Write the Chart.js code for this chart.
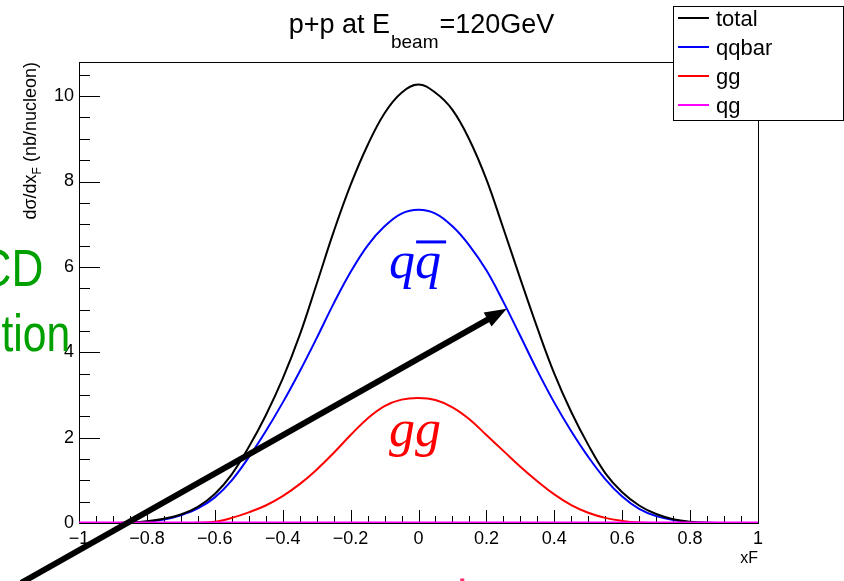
<!DOCTYPE html>
<html>
<head>
<meta charset="utf-8">
<script src="https://cdn.jsdelivr.net/npm/chart.js@4.4.1/dist/chart.umd.min.js"></script>
<style>
  body { margin: 0; background: #fff; }
  canvas { display: block; }
</style>
</head>
<body>
<canvas id="xsec" width="844" height="581"></canvas>
<script>
// xF grid (step 0.05)
var xF = [-1, -0.95, -0.9, -0.85, -0.8, -0.75, -0.7, -0.65, -0.6, -0.55, -0.5,
          -0.45, -0.4, -0.35, -0.3, -0.25, -0.2, -0.15, -0.1, -0.05, 0,
          0.05, 0.1, 0.15, 0.2, 0.25, 0.3, 0.35, 0.4, 0.45, 0.5,
          0.55, 0.6, 0.65, 0.7, 0.75, 0.8, 0.85, 0.9, 0.95, 1];

var total = [0, 0, 0, 0.01, 0.04, 0.1, 0.2, 0.38, 0.68, 1.14, 1.78,
             2.52, 3.38, 4.4, 5.6, 6.82, 7.92, 8.85, 9.6, 10.08, 10.27,
             10.08, 9.68, 8.98, 8.05, 6.9, 5.72, 4.57, 3.5, 2.6, 1.83,
             1.17, 0.72, 0.41, 0.21, 0.09, 0.03, 0.008, 0, 0, 0];

var qqbar = [0, 0, 0, 0.005, 0.03, 0.08, 0.18, 0.34, 0.6, 1.0, 1.54,
             2.15, 2.82, 3.55, 4.33, 5.14, 5.88, 6.5, 6.95, 7.25, 7.34,
             7.25, 6.95, 6.5, 5.92, 5.18, 4.38, 3.57, 2.82, 2.15, 1.55,
             1.03, 0.62, 0.33, 0.16, 0.07, 0.02, 0.003, 0, 0, 0];

var gg = [0, 0, 0, 0, 0, 0, 0, 0.005, 0.03, 0.12, 0.25,
          0.41, 0.63, 0.91, 1.25, 1.64, 2.06, 2.45, 2.74, 2.89, 2.93,
          2.88, 2.71, 2.43, 2.06, 1.69, 1.32, 0.98, 0.67, 0.42, 0.24,
          0.12, 0.05, 0.01, 0, 0, 0, 0, 0, 0, 0];

var qg = [0, 0, 0, 0, 0, 0, 0, 0, 0, 0, 0,
          0, 0, 0, 0, 0, 0, 0, 0, 0, 0,
          0, 0, 0, 0, 0, 0, 0, 0, 0, 0,
          0, 0, 0, 0, 0, 0, 0, 0, 0, 0];

var seriesNames = ["total", "qqbar", "gg", "qg"];
var seriesColors = ["#000000", "#0000ff", "#ff0000", "#ff00ff"];

var xTicks = [-1, -0.8, -0.6, -0.4, -0.2, 0, 0.2, 0.4, 0.6, 0.8, 1];
var yTicks = [0, 2, 4, 6, 8, 10];

var FONT = "'Liberation Sans', Arial, Helvetica, sans-serif";
var SERIF = "'Liberation Serif', 'Times New Roman', serif";

function pts(arr) {
    return arr.map(function (v, i) { return { x: xF[i], y: v }; });
}

function minus(v) {
    var s = String(Math.round(v * 10) / 10);
    return s.replace('-', '\u2212');
}

// frame + ROOT style inside ticks
var framePlugin = {
    id: 'frame',
    beforeDatasetsDraw: function (chart) {
        var c = chart.ctx, a = chart.chartArea;
        var xs = chart.scales.x, ys = chart.scales.y;
        c.save();
        c.strokeStyle = '#000';
        c.lineWidth = 1;
        c.strokeRect(a.left + 0.5, a.top + 0.5, a.right - a.left, a.bottom - a.top);
        c.beginPath();
        for (var v = 0; v <= 10.8; v += 0.5) {
            var py = Math.round(ys.getPixelForValue(v)) + 0.5;
            var len = (Math.abs(v % 2) < 1e-6) ? 21 : 11;
            c.moveTo(a.left, py);
            c.lineTo(a.left + len, py);
        }
        for (var i = 0; i <= 40; i++) {
            var xv = -1 + i * 0.05;
            var px = Math.round(xs.getPixelForValue(xv)) + 0.5;
            var l2 = (i % 4 === 0) ? 13 : 7;
            c.moveTo(px, a.bottom);
            c.lineTo(px, a.bottom - l2);
        }
        c.stroke();
        c.restore();
    },
    afterDatasetsDraw: function (chart) {
        var c = chart.ctx;
        var xs = chart.scales.x, ys = chart.scales.y;
        c.save();

        // slide text cut off at the left
        c.fillStyle = '#00a000';
        c.font = '52px ' + FONT;
        c.textAlign = 'right';
        c.textBaseline = 'alphabetic';
        c.save();
        c.translate(xs.getPixelForValue(-1.105), ys.getPixelForValue(5.56));
        c.scale(0.85, 1);
        c.fillText('CD', 0, 0);
        c.restore();
        c.save();
        c.translate(xs.getPixelForValue(-1.026), ys.getPixelForValue(4.04));
        c.scale(0.82, 1);
        c.fillText('tion', 0, 0);
        c.restore();

        // labels on the curves
        c.textAlign = 'center';
        c.font = 'italic 52px ' + SERIF;
        c.fillStyle = '#0000ff';
        var qx = xs.getPixelForValue(-0.01), qy = ys.getPixelForValue(5.75);
        c.fillText('qq', qx, qy);
        var w = c.measureText('qq').width;
        c.fillRect(qx + 1, ys.getPixelForValue(6.62), w / 2 + 4, 3);

        c.fillStyle = '#ff0000';
        c.fillText('gg', xs.getPixelForValue(-0.01), ys.getPixelForValue(1.8));

        // arrow
        var x0 = xs.getPixelForValue(-1.17), y0 = ys.getPixelForValue(-1.4);
        var x1 = xs.getPixelForValue(0.26), y1 = ys.getPixelForValue(5.02);
        var ang = Math.atan2(y1 - y0, x1 - x0);
        var hl = 22, hw = 8;
        var bx = x1 - hl * Math.cos(ang), by = y1 - hl * Math.sin(ang);
        c.strokeStyle = '#000';
        c.lineWidth = 6;
        c.beginPath();
        c.moveTo(x0, y0);
        c.lineTo(bx + 2 * Math.cos(ang), by + 2 * Math.sin(ang));
        c.stroke();
        c.fillStyle = '#000';
        c.beginPath();
        c.moveTo(x1, y1);
        c.lineTo(bx + hw * Math.sin(ang), by - hw * Math.cos(ang));
        c.lineTo(bx - hw * Math.sin(ang), by + hw * Math.cos(ang));
        c.closePath();
        c.fill();

        // small pink mark at the bottom edge
        c.fillStyle = '#ff2a6a';
        c.fillRect(xs.getPixelForValue(0.123), ys.getPixelForValue(-1.3), 4, 4);

        c.restore();
    },
    afterDraw: function (chart) {
        var c = chart.ctx, a = chart.chartArea;
        c.save();
        // title
        var main = '27px ' + FONT, sub = '19px ' + FONT;
        var p1 = 'p+p at E', p2 = 'beam', p3 = '=120GeV';
        c.font = main; var w1 = c.measureText(p1).width, w3 = c.measureText(p3).width;
        c.font = sub; var w2 = c.measureText(p2).width;
        var tx = (a.left + a.right) / 2 + 2 - (w1 + w2 + w3) / 2;
        c.fillStyle = '#000';
        c.textAlign = 'left';
        c.textBaseline = 'alphabetic';
        c.font = main; c.fillText(p1, tx, 33);
        c.font = sub; c.fillText(p2, tx + w1 + 1, 48);
        c.font = main; c.fillText(p3, tx + w1 + w2 + 2, 33);

        // axis titles
        c.font = '16px ' + FONT;
        c.textAlign = 'right';
        c.fillText('xF', a.right, 563);

        c.save();
        c.translate(36, a.top);
        c.rotate(-Math.PI / 2);
        c.textAlign = 'left';
        var s1 = 'd\u03c3/dx', s2 = 'F', s3 = ' (nb/nucleon)';
        c.font = '18px ' + FONT; var u1 = c.measureText(s1).width, u3 = c.measureText(s3).width;
        c.font = '12px ' + FONT; var u2 = c.measureText(s2).width;
        var start = -(u1 + u2 + u3);
        c.font = '18px ' + FONT; c.fillText(s1, start, 0);
        c.font = '12px ' + FONT; c.fillText(s2, start + u1, 5);
        c.font = '18px ' + FONT; c.fillText(s3, start + u1 + u2, 0);
        c.restore();

        // legend box
        var lx = 673, ly = 6, lw = 170, lh = 114;
        c.fillStyle = '#fff';
        c.fillRect(lx, ly, lw, lh);
        c.strokeStyle = '#000';
        c.lineWidth = 1;
        c.strokeRect(lx + 0.5, ly + 0.5, lw, lh);
        c.font = '22px ' + FONT;
        c.textAlign = 'left';
        chart.data.datasets.forEach(function (ds, i) {
            var yy = 18 + i * 29;
            c.strokeStyle = ds.borderColor;
            c.lineWidth = 2;
            c.beginPath();
            c.moveTo(678, yy);
            c.lineTo(709, yy);
            c.stroke();
            c.fillStyle = '#000';
            c.fillText(ds.label, 716, yy + 8);
        });
        c.restore();
    }
};

var ctx = document.getElementById('xsec');
var datasets = [total, qqbar, gg, qg].map(function (arr, i) {
    return {
        label: seriesNames[i],
        data: pts(arr),
        borderColor: seriesColors[i],
        borderWidth: i === 3 ? 3 : 2,
        pointRadius: 0,
        fill: false,
        tension: 0.4,
        order: [1, 2, 3, 0][i]
    };
});

var chart = new Chart(ctx, {
    type: 'line',
    data: { datasets: datasets },
    options: {
        responsive: false,
        animation: false,
        layout: { padding: { left: 0, top: 62, right: 86, bottom: 0 } },
        plugins: { legend: { display: false }, tooltip: { enabled: false } },
        scales: {
            x: {
                type: 'linear',
                min: -1,
                max: 1,
                grid: { display: false, drawTicks: false },
                border: { display: false },
                afterBuildTicks: function (s) { s.ticks = xTicks.map(function (v) { return { value: v }; }); },
                afterFit: function (s) { s.height = 58; },
                ticks: {
                    padding: 5,
                    maxRotation: 0,
                    autoSkip: false,
                    color: '#000',
                    font: { family: FONT, size: 18 },
                    callback: function (v) { return minus(v); }
                }
            },
            y: {
                min: 0,
                max: 10.8,
                grid: { display: false, drawTicks: false },
                border: { display: false },
                afterBuildTicks: function (s) { s.ticks = yTicks.map(function (v) { return { value: v }; }); },
                afterFit: function (s) { s.width = 79; },
                ticks: {
                    padding: 5,
                    color: '#000',
                    font: { family: FONT, size: 18 },
                    callback: function (v) { return String(v); }
                }
            }
        }
    },
    plugins: [framePlugin]
});
</script>
</body>
</html>
